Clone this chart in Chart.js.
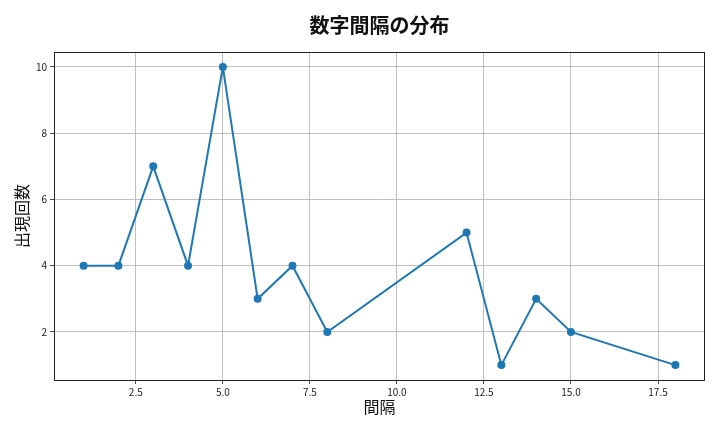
<!DOCTYPE html>
<html>
<head>
<meta charset="utf-8">
<script src="https://cdn.jsdelivr.net/npm/chart.js@4"></script>
<style>
  html, body { margin: 0; padding: 0; background: #fff; }
  #wrap { width: 720px; height: 432px; }
</style>
</head>
<body>
<div id="wrap"><canvas id="chart" width="720" height="432"></canvas></div>
<script>
// data
const intervals = [1, 2, 3, 4, 5, 6, 7, 8, 12, 13, 14, 15, 18];
const counts = [4, 4, 7, 4, 10, 3, 4, 2, 5, 1, 3, 2, 1];
const xTicks = [2.5, 5.0, 7.5, 10.0, 12.5, 15.0, 17.5];
const yTicks = [2, 4, 6, 8, 10];

const FONT = "'Noto Sans CJK JP', 'Noto Sans', sans-serif";

// matplotlib style frame round the plot area,
// and the title centred over the axes rather than the canvas
const frame = {
  id: "frame",
  afterLayout(chart) {
    const t = chart.titleBlock;
    if (t) {
      t.left = chart.chartArea.left;
      t.right = chart.chartArea.right;
      t.width = t.right - t.left;
    }
  },
  afterDraw(chart) {
    const a = chart.chartArea;
    const c = chart.ctx;
    c.save();
    c.strokeStyle = "#222";
    c.lineWidth = 1;
    c.strokeRect(a.left + 0.5, a.top + 0.5, a.right - a.left - 1, a.bottom - a.top);
    c.restore();
  }
};

new Chart(document.getElementById("chart"), {
  type: "line",
  data: {
    datasets: [{
      data: intervals.map((x, i) => ({ x: x, y: counts[i] })),
      borderColor: "#1f77b4",
      backgroundColor: "#1f77b4",
      borderWidth: 2,
      pointRadius: 3,
      pointHoverRadius: 3,
      tension: 0
    }]
  },
  options: {
    responsive: false,
    animation: false,
    layout: { padding: { left: 0, right: 15, top: 0, bottom: 0 } },
    plugins: {
      legend: { display: false },
      tooltip: { enabled: false },
      title: {
        display: true,
        text: "数字間隔の分布",
        color: "#111",
        font: { family: FONT, size: 20, weight: "bold" },
        padding: { top: 13, bottom: 15 }
      }
    },
    scales: {
      x: {
        type: "linear",
        min: 0.15,
        max: 18.85,
        afterBuildTicks(scale) { scale.ticks = xTicks.map(v => ({ value: v })); },
        afterFit(scale) { scale.height = 52; },
        ticks: {
          color: "#222",
          font: { family: FONT, size: 10 },
          maxRotation: 0,
          padding: 2,
          callback: v => v.toFixed(1)
        },
        grid: { color: "#b0b0b0", lineWidth: 0.8, tickColor: "#222", tickLength: 4 },
        border: { display: false },
        title: {
          display: true,
          text: "間隔",
          color: "#111",
          font: { family: FONT, size: 16 },
          padding: { top: 0, bottom: 15 }
        }
      },
      y: {
        type: "linear",
        min: 0.55,
        max: 10.45,
        afterBuildTicks(scale) { scale.ticks = yTicks.map(v => ({ value: v })); },
        afterFit(scale) { scale.width = 54; },
        ticks: {
          color: "#222",
          font: { family: FONT, size: 10 },
          padding: 3,
          callback: v => String(v)
        },
        grid: { color: "#b0b0b0", lineWidth: 0.8, tickColor: "#222", tickLength: 4 },
        border: { display: false },
        title: {
          display: true,
          text: "出現回数",
          color: "#111",
          font: { family: FONT, size: 16 },
          padding: { top: 12, bottom: 0 }
        }
      }
    }
  },
  plugins: [frame]
});
</script>
</body>
</html>
